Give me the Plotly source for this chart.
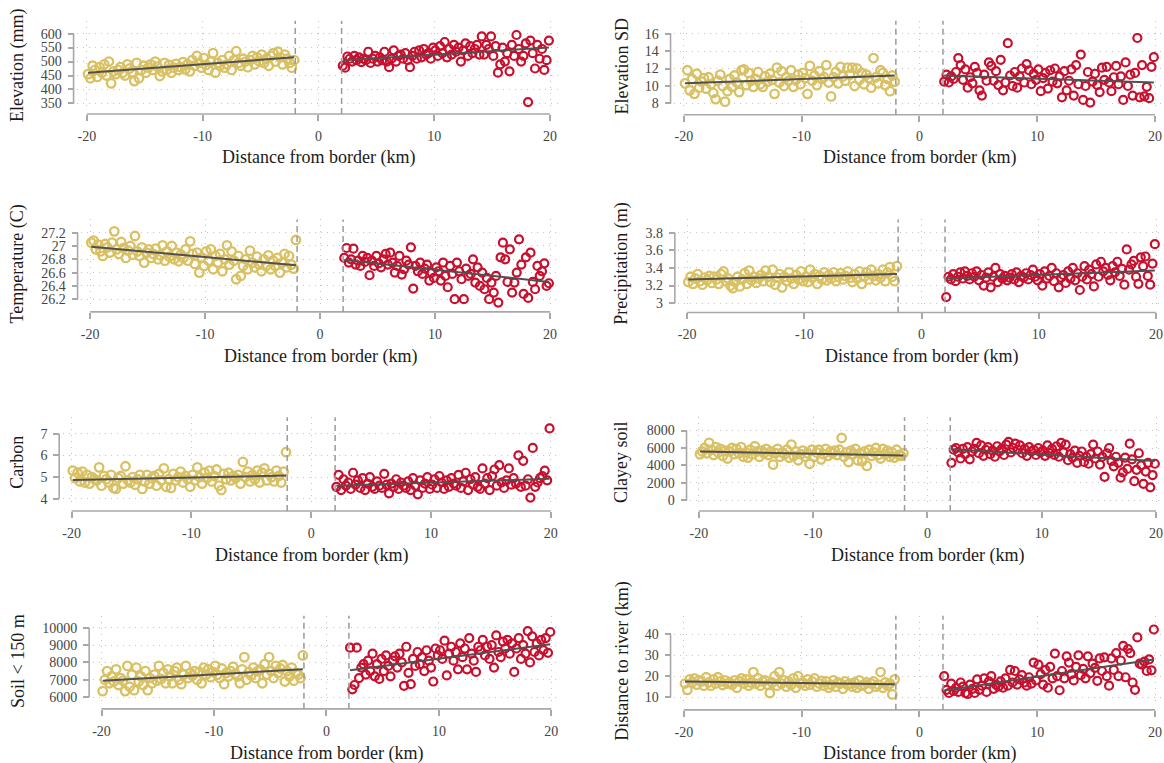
import plotly.graph_objects as go

W, H = 1164, 763
FONT = "Liberation Serif"
YELLOW = "#d9c062"
RED = "#c8102e"
FITC = "#505050"
AXC = "#a8a8a8"

# ---------------- data ----------------
X_LEFT = [-19.9, -19.7, -19.5, -19.3, -19.1, -18.9, -18.7, -18.5, -18.3, -18.1,
          -17.9, -17.7, -17.5, -17.3, -17.1, -16.9, -16.7, -16.5, -16.3, -16.1,
          -15.9, -15.7, -15.5, -15.3, -15.1, -14.9, -14.7, -14.5, -14.3, -14.1,
          -13.9, -13.7, -13.5, -13.3, -13.1, -12.9, -12.7, -12.5, -12.3, -12.1,
          -11.9, -11.7, -11.5, -11.3, -11.1, -10.9, -10.7, -10.5, -10.3, -10.1,
          -9.9, -9.7, -9.5, -9.3, -9.1, -8.9, -8.7, -8.5, -8.3, -8.1,
          -7.9, -7.7, -7.5, -7.3, -7.1, -6.9, -6.7, -6.5, -6.3, -6.1,
          -5.9, -5.7, -5.5, -5.3, -5.1, -4.9, -4.7, -4.5, -4.3, -4.1,
          -3.9, -3.7, -3.5, -3.3, -3.1, -2.9, -2.7, -2.5, -2.3, -2.1]
X_RIGHT = [2.1, 2.3, 2.5, 2.7, 2.9, 3.1, 3.3, 3.5, 3.7, 3.9,
           4.1, 4.3, 4.5, 4.7, 4.9, 5.1, 5.3, 5.5, 5.7, 5.9,
           6.1, 6.3, 6.5, 6.7, 6.9, 7.1, 7.3, 7.5, 7.7, 7.9,
           8.1, 8.3, 8.5, 8.7, 8.9, 9.1, 9.3, 9.5, 9.7, 9.9,
           10.1, 10.3, 10.5, 10.7, 10.9, 11.1, 11.3, 11.5, 11.7, 11.9,
           12.1, 12.3, 12.5, 12.7, 12.9, 13.1, 13.3, 13.5, 13.7, 13.9,
           14.1, 14.3, 14.5, 14.7, 14.9, 15.1, 15.3, 15.5, 15.7, 15.9,
           16.1, 16.3, 16.5, 16.7, 16.9, 17.1, 17.3, 17.5, 17.7, 17.9,
           18.1, 18.3, 18.5, 18.7, 18.9, 19.1, 19.3, 19.5, 19.7, 19.9]

ELEV_L = [455, 440, 485, 470, 445, 480, 460, 490, 450, 500,
          422, 465, 455, 470, 480, 460, 450, 490, 475, 462,
          430, 495, 440, 470, 485, 460, 478, 490, 470, 500,
          482, 448, 465, 495, 470, 488, 460, 478, 492, 470,
          480, 498, 472, 490, 465, 505, 485, 520, 495, 478,
          512, 488, 470, 500, 530, 460, 495, 485, 505, 478,
          490, 520, 470, 505, 537, 495, 485, 510, 500, 480,
          505, 520, 490, 515, 500, 525, 495, 510, 485, 520,
          530, 500, 535, 515, 490, 525, 510, 495, 478, 505]
ELEV_R = [485, 478, 518, 510, 500, 520, 505, 515, 498, 510,
          505, 535, 495, 510, 520, 500, 515, 505, 535, 500,
          480, 510, 540, 500, 520, 525, 510, 530, 505, 480,
          520, 535, 510, 540, 515, 545, 525, 530, 510, 550,
          540, 520, 555, 530, 570, 515, 545, 525, 560, 535,
          550, 500, 540, 565, 520, 555, 530, 545, 560, 525,
          590, 525, 560, 545, 590, 520, 555, 460, 490, 550,
          500, 530, 465, 560, 520, 595, 545, 500, 520, 565,
          355, 575, 530, 475, 560, 510, 545, 470, 505, 575]

ELSD_L = [10.3, 11.8, 9.5, 10.8, 9.1, 11.4, 9.8, 10.5, 10.9, 9.7,
          11.0, 10.2, 9.2, 8.5, 10.6, 11.3, 10.0, 8.2, 9.4, 10.8,
          9.9, 11.2, 10.4, 9.3, 11.8, 11.9, 10.1, 11.5, 10.6, 9.9,
          10.8, 11.6, 10.2, 9.9, 11.1, 10.5, 11.4, 10.7, 9.1, 12.1,
          10.4, 11.7, 10.0, 11.0, 10.6, 11.8, 9.9, 10.7, 11.3, 10.2,
          11.5, 10.9, 9.1, 12.3, 10.6, 11.2, 10.1, 11.7, 10.8, 11.0,
          12.4, 10.4, 8.8, 11.0, 11.6, 10.3, 12.2, 11.1, 10.6, 12.1,
          11.3, 12.1, 10.0, 12.0, 10.7, 11.5, 10.2, 11.3, 10.9, 9.8,
          13.2, 11.0, 10.3, 11.8, 11.5, 10.1, 10.8, 9.4, 11.2, 10.5]
ELSD_R = [10.5, 11.3, 10.4, 11.1, 10.8, 11.6, 13.2, 12.4, 10.7, 11.9,
          9.8, 11.0, 10.3, 12.2, 11.5, 9.5, 8.9, 11.3, 10.6, 12.7,
          12.3, 10.6, 11.7, 10.1, 13.0, 9.5, 10.4, 14.9, 11.2, 10.0,
          11.6, 9.8, 11.1, 12.0, 10.4, 12.5, 11.8, 10.2, 11.4, 10.7,
          11.9, 9.4, 10.9, 11.5, 9.7, 11.8, 10.5, 12.0, 10.3, 11.1,
          8.7, 11.7, 9.5, 10.6, 11.9, 8.9, 12.4, 10.2, 13.6, 8.4,
          10.0, 11.6, 8.1, 10.5, 11.4, 10.1, 9.3, 12.1, 10.7, 12.2,
          10.4, 9.4, 11.0, 12.3, 10.2, 11.1, 8.4, 12.7, 10.0, 11.3,
          8.9, 11.5, 15.5, 8.7, 12.4, 8.8, 9.9, 8.6, 12.2, 13.3]

TEMP_L = [27.05, 27.08, 26.95, 27.02, 26.92, 26.85, 27.03, 26.98, 26.90, 27.05,
          27.22, 26.95, 26.88, 27.06, 26.97, 26.82, 26.93, 27.00, 26.87, 27.15,
          26.92, 26.85, 26.98, 26.75, 26.90, 26.95, 26.82, 26.88, 26.96, 26.80,
          26.86, 27.01, 26.78, 26.92, 26.84, 27.00, 26.80, 26.90, 26.77, 26.87,
          26.82, 26.95, 26.78, 27.07, 26.88, 26.73, 26.90, 26.60, 26.83, 26.70,
          26.92, 26.78, 26.95, 26.65, 26.85, 26.75, 26.88, 26.62, 26.80, 27.01,
          26.72, 26.92, 26.78, 26.50, 26.85, 26.55, 26.70, 26.80, 26.65, 26.93,
          26.75, 26.68, 26.84, 26.72, 26.62, 26.80, 26.70, 26.86, 26.65, 26.78,
          26.70, 26.82, 26.60, 26.75, 26.88, 26.68, 26.85, 26.72, 26.66, 27.09]
TEMP_R = [26.82, 26.97, 26.75, 26.80, 26.96, 26.72, 26.78, 26.70, 26.85, 26.76,
          26.82, 26.56, 26.78, 26.70, 26.85, 26.74, 26.68, 26.80, 26.88, 26.72,
          26.90, 26.75, 26.60, 26.70, 26.85, 26.57, 26.65, 26.78, 26.72, 26.98,
          26.36, 26.70, 26.62, 26.75, 26.58, 26.66, 26.72, 26.48, 26.60, 26.52,
          26.68, 26.62, 26.48, 26.75, 26.55, 26.38, 26.70, 26.58, 26.20, 26.75,
          26.62, 26.50, 26.20, 26.66, 26.55, 26.58, 26.80, 26.45, 26.68, 26.40,
          26.60, 26.35, 26.52, 26.20, 26.45, 26.30, 26.55, 26.15, 26.83, 27.05,
          26.80, 26.46, 26.95, 26.30, 26.45, 26.60, 27.10, 26.72, 26.28, 26.83,
          26.22, 26.90, 26.46, 26.35, 26.70, 26.55, 26.62, 26.74, 26.40, 26.44]

PREC_L = [3.24, 3.30, 3.22, 3.28, 3.33, 3.25, 3.21, 3.29, 3.26, 3.31,
          3.23, 3.30, 3.27, 3.22, 3.33, 3.36, 3.25, 3.28, 3.20, 3.17,
          3.24, 3.30, 3.19, 3.27, 3.34, 3.22, 3.37, 3.26, 3.30, 3.23,
          3.28, 3.32, 3.25, 3.37, 3.30, 3.24, 3.38, 3.21, 3.29, 3.33,
          3.18, 3.30, 3.25, 3.35, 3.28, 3.22, 3.32, 3.27, 3.36, 3.25,
          3.30, 3.24, 3.38, 3.29, 3.33, 3.22, 3.31, 3.27, 3.35, 3.26,
          3.32, 3.28, 3.35, 3.25, 3.30, 3.34, 3.27, 3.31, 3.36, 3.29,
          3.24, 3.33, 3.28, 3.36, 3.22, 3.30, 3.35, 3.27, 3.38, 3.31,
          3.26, 3.33, 3.29, 3.38, 3.25, 3.35, 3.41, 3.30, 3.25, 3.42]
PREC_R = [3.07, 3.30, 3.27, 3.33, 3.25, 3.30, 3.35, 3.28, 3.36, 3.31,
          3.27, 3.34, 3.30, 3.36, 3.26, 3.32, 3.20, 3.29, 3.35, 3.18,
          3.30, 3.40, 3.24, 3.33, 3.28, 3.31, 3.26, 3.29, 3.33, 3.27,
          3.35, 3.24, 3.31, 3.29, 3.34, 3.27, 3.32, 3.38, 3.30, 3.26,
          3.33, 3.20, 3.36, 3.28, 3.31, 3.40, 3.25, 3.34, 3.18, 3.29,
          3.32, 3.23, 3.36, 3.28, 3.40, 3.26, 3.34, 3.15, 3.30, 3.42,
          3.27, 3.38, 3.33, 3.19, 3.44, 3.30, 3.47, 3.36, 3.40, 3.32,
          3.26, 3.42, 3.35, 3.47, 3.31, 3.39, 3.21, 3.61, 3.38, 3.44,
          3.48, 3.30, 3.22, 3.52, 3.42, 3.53, 3.31, 3.21, 3.45, 3.67]

CARB_L = [5.30, 4.95, 5.20, 4.80, 5.25, 4.75, 5.10, 4.70, 5.00, 4.90,
          4.85, 5.45, 4.60, 5.05, 4.90, 4.75, 5.10, 4.50, 4.45, 4.95,
          5.05, 4.70, 5.50, 4.85, 4.75, 5.00, 4.65, 4.90, 5.10, 4.45,
          4.80, 5.10, 4.70, 4.95, 5.05, 4.60, 5.15, 4.85, 5.40, 4.55,
          4.90, 4.50, 5.15, 4.85, 5.00, 5.25, 4.75, 5.05, 4.90, 4.55,
          5.10, 4.85, 5.45, 5.00, 4.70, 5.20, 4.95, 5.30, 4.80, 5.05,
          5.35, 4.60, 4.40, 5.15, 4.90, 5.20, 4.85, 5.05, 4.95, 5.10,
          4.70, 5.70, 5.00, 5.25, 4.80, 5.10, 4.90, 5.30, 4.75, 5.20,
          5.40, 4.85, 5.15, 5.00, 4.80, 5.30, 5.05, 4.75, 5.25, 6.15]
CARB_R = [4.55, 5.10, 4.40, 4.90, 4.60, 4.75, 4.45, 5.20, 4.65, 4.85,
          4.50, 4.95, 4.40, 4.70, 5.00, 4.55, 4.45, 4.80, 4.60, 4.50,
          5.15, 4.65, 4.25, 4.70, 4.55, 4.90, 4.45, 4.75, 4.60, 4.50,
          4.80, 4.40, 4.95, 4.60, 4.20, 4.85, 4.50, 4.70, 5.00, 4.45,
          4.65, 4.90, 4.50, 5.05, 4.75, 4.45, 4.85, 4.55, 4.95, 4.70,
          4.60, 5.10, 4.50, 4.80, 5.20, 4.40, 4.90, 4.65, 5.00, 4.55,
          4.45, 5.40, 4.70, 4.95, 4.40, 5.05, 5.35, 4.60, 5.55, 4.75,
          4.50, 4.85, 5.40, 4.65, 4.95, 4.70, 6.00, 4.55, 5.75, 4.60,
          4.90, 4.05, 6.35, 4.55, 4.75, 4.95, 5.05, 5.30, 4.85, 7.25]

CLAY_L = [5300, 5600, 6000, 5400, 6600, 5800, 5200, 6100, 5500, 5900,
          5100, 5700, 4800, 5600, 6000, 5300, 5900, 5400, 6100, 5000,
          5500, 4900, 5800, 5300, 6200, 5600, 5000, 5700, 5400, 5900,
          5200, 5600, 4100, 5400, 5900, 5000, 5500, 5300, 5800, 4900,
          6400, 5100, 5600, 4600, 5300, 5700, 5000, 5400, 4200, 5800,
          5000, 5500, 5800, 4700, 5300, 5900, 5100, 5600, 5400, 5700,
          5200, 5800, 7150, 5000, 5500, 4400, 5700, 5300, 5900, 4600,
          5400, 4500, 5600, 3950, 5800, 5100, 5500, 6000, 5200, 4800,
          5900, 5300, 5700, 5000, 5500, 4900, 5800, 5200, 5100, 5400]
CLAY_R = [4300, 5800, 6000, 5500, 4800, 5900, 5300, 6100, 4700, 5600,
          5900, 6600, 5400, 6300, 5100, 5800, 6100, 5300, 5700, 5000,
          6200, 5600, 5900, 5200, 6400, 6700, 5500, 6000, 6500, 5800,
          6300, 5400, 5900, 5100, 6100, 5600, 5800, 5200, 6000, 5500,
          5700, 5100, 6300, 5400, 5900, 5200, 6200, 5000, 6600, 5500,
          6400, 4600, 5300, 4900, 5700, 4300, 5100, 5600, 4400, 5000,
          4200, 5300, 6400, 4800, 5600, 4100, 5000, 2700, 5400, 6000,
          4500, 3900, 5000, 4300, 2600, 3200, 4900, 3600, 6500, 4700,
          2200, 3500, 5400, 4000, 1900, 3300, 4300, 1500, 2900, 4200]

SOIL_L = [6350, 7000, 7500, 6800, 7200, 6900, 7600, 6700, 7100, 6950,
          6350, 7800, 6600, 7300, 6400, 7700, 6900, 7200, 6700, 7500,
          6400, 7100, 6800, 7300, 6950, 7800, 7050, 7400, 6800, 7600,
          7200, 6800, 7500, 7700, 7000, 6750, 7300, 7800, 7100, 7400,
          7250, 7500, 7000, 7450, 6800, 7700, 7300, 7600, 7150, 7450,
          7800, 7300, 7100, 7650, 6750, 7400, 7200, 7500, 7750, 7350,
          7200, 6800, 7600, 8300, 7000, 7450, 7250, 7700, 7100, 7500,
          7600, 6800, 7900, 7300, 8300, 7500, 7100, 7800, 7400, 7650,
          7850, 6900, 7500, 7200, 7700, 6950, 7400, 7300, 7100, 8400]
SOIL_R = [8850, 6450, 6700, 8850, 7100, 7700, 7900, 7300, 8100, 7500,
          8500, 7200, 7900, 7050, 8200, 7500, 8400, 7800, 7200, 8100,
          8350, 7700, 8500, 8000, 6650, 8900, 7400, 6750, 8200, 7800,
          8600, 7900, 8300, 7500, 8700, 8100, 7700, 6900, 8800, 8400,
          8700, 8200, 9250, 7250, 8500, 8900, 8100, 8600, 7600, 9100,
          8300, 8800, 7600, 9400, 8500, 8100, 7450, 8900, 8700, 9300,
          8400, 8900, 8200, 9000, 7700, 9550, 8600, 8300, 9200, 8800,
          9300, 8500, 9100, 7450, 8800, 9400, 8200, 9000, 8500, 9800,
          8000, 9500, 8600, 9100, 8400, 9300, 8700, 9400, 8550, 9750]

RIVER_L = [16.5, 13.5, 18.5, 17.0, 19.0, 16.0, 18.0, 17.5, 15.5, 19.5,
           17.0, 15.5, 18.5, 16.5, 19.5, 17.5, 15.8, 18.0, 16.5, 17.0,
           16.0, 18.0, 14.5, 17.5, 19.0, 16.5, 18.5, 15.5, 17.0, 22.0,
           16.5, 19.0, 15.5, 17.5, 18.0, 16.0, 12.0, 17.0, 20.0, 15.5,
           22.0, 16.5, 18.0, 15.0, 17.5, 16.0, 19.0, 14.5, 20.0, 16.5,
           17.0, 15.5, 18.5, 16.0, 17.5, 19.0, 15.0, 16.5, 17.8, 15.5,
           17.5, 14.5, 16.0, 18.0, 15.0, 17.0, 16.5, 14.0, 17.5, 16.0,
           16.5, 15.0, 17.0, 14.5, 18.0, 15.5, 16.0, 17.0, 14.0, 16.5,
           17.5, 15.0, 16.0, 22.0, 14.5, 17.0, 15.5, 16.5, 11.3, 18.5]
RIVER_R = [20.0, 13.5, 12.0, 16.5, 13.0, 14.5, 12.5, 17.0, 15.0, 12.0,
           11.5, 16.0, 14.0, 12.0, 18.5, 13.5, 15.5, 19.0, 12.5, 17.5,
           20.0, 14.0, 16.0, 15.0, 17.5, 14.5, 19.0, 15.5, 23.0, 17.0,
           22.5, 16.0, 18.5, 20.5, 17.0, 15.5, 19.5, 16.5, 26.5, 18.0,
           25.5, 21.0, 16.0, 23.0, 14.5, 24.5, 19.0, 30.8, 20.0, 13.3,
           22.5, 19.0, 29.5, 26.5, 21.0, 18.0, 24.5, 30.0, 20.5, 23.5,
           19.0, 29.5, 21.5, 26.0, 24.0, 17.8, 28.5, 22.5, 29.0, 20.0,
           15.5, 28.5, 23.0, 31.0, 20.0, 27.5, 34.5, 19.5, 33.0, 31.0,
           17.0, 13.5, 38.5, 26.0, 25.5, 27.0, 22.5, 28.0, 22.8, 42.3]

# fitted-line end points: (left start, left end, right start, right end)
FIT_X = [-19.9, -2.1, 2.1, 19.9]
ELEV_FIT = [460, 515, 505, 550]
ELSD_FIT = [10.3, 11.2, 11.2, 10.4]
TEMP_FIT = [26.99, 26.71, 26.79, 26.46]
PREC_FIT = [3.27, 3.33, 3.28, 3.37]
CARB_FIT = [4.87, 5.07, 4.60, 4.92]
CLAY_FIT = [5600, 5150, 5850, 4500]
SOIL_FIT = [6950, 7600, 7550, 9050]
RIVER_FIT = [17.5, 16.2, 13.2, 28.0]

X_TICKS = [-20, -10, 0, 10, 20]
X_TICKTEXT = ["-20", "-10", "0", "10", "20"]
X_TITLE = "Distance from border (km)"

TITLES = ["Elevation (mm)", "Elevation SD", "Temperature (C)", "Precipitation (m)",
          "Carbon", "Clayey soil", "Soil < 150 m", "Distance to river (km)"]
Y_TICKS = [[350, 400, 450, 500, 550, 600],
           [8, 10, 12, 14, 16],
           [26.2, 26.4, 26.6, 26.8, 27.0, 27.2],
           [3.0, 3.2, 3.4, 3.6, 3.8],
           [4, 5, 6, 7],
           [0, 2000, 4000, 6000, 8000],
           [6000, 7000, 8000, 9000, 10000],
           [10, 20, 30, 40]]
Y_TICKTEXT = [["350", "400", "450", "500", "550", "600"],
              ["8", "10", "12", "14", "16"],
              ["26.2", "26.4", "26.6", "26.8", "27", "27.2"],
              ["3", "3.2", "3.4", "3.6", "3.8"],
              ["4", "5", "6", "7"],
              ["0", "2000", "4000", "6000", "8000"],
              ["6000", "7000", "8000", "9000", "10000"],
              ["10", "20", "30", "40"]]
SERIES = [(ELEV_L, ELEV_R, ELEV_FIT), (ELSD_L, ELSD_R, ELSD_FIT),
          (TEMP_L, TEMP_R, TEMP_FIT), (PREC_L, PREC_R, PREC_FIT),
          (CARB_L, CARB_R, CARB_FIT), (CLAY_L, CLAY_R, CLAY_FIT),
          (SOIL_L, SOIL_R, SOIL_FIT), (RIVER_L, RIVER_R, RIVER_FIT)]

# ---------------- layout geometry (pixels) ----------------
GEOM = [
    dict(yline=72.7, xm20=86.0, x20=550.0, top=20.7, xline=114.3, yhi_px=33.7, ylo_px=103.7, ytx=16.5, xty=158.0),
    dict(yline=670.7, xm20=684.0, x20=1156.0, top=20.7, xline=115.0, yhi_px=33.7, ylo_px=103.7, ytx=621.7, xty=158.0),
    dict(yline=76.7, xm20=89.3, x20=550.0, top=220.0, xline=312.7, yhi_px=233.3, ylo_px=300.0, ytx=16.5, xty=357.0),
    dict(yline=675.0, xm20=687.3, x20=1157.0, top=220.0, xline=313.3, yhi_px=233.3, ylo_px=304.0, ytx=621.7, xty=357.0),
    dict(yline=58.3, xm20=70.7, x20=550.7, top=418.3, xline=512.3, yhi_px=435.0, ylo_px=500.0, ytx=16.5, xty=556.5),
    dict(yline=686.7, xm20=699.0, x20=1157.0, top=418.3, xline=512.3, yhi_px=431.7, ylo_px=501.7, ytx=621.7, xty=556.5),
    dict(yline=88.3, xm20=100.7, x20=551.3, top=617.3, xline=710.7, yhi_px=629.3, ylo_px=699.0, ytx=16.5, xty=755.0),
    dict(yline=670.7, xm20=684.0, x20=1156.0, top=617.3, xline=711.7, yhi_px=636.0, ylo_px=699.0, ytx=621.7, xty=755.0),
]
GAP = 3.5

fig = go.Figure()
layout = dict(width=W, height=H, margin=dict(l=0, r=0, t=0, b=0),
              paper_bgcolor="white", plot_bgcolor="white", showlegend=False,
              font=dict(family=FONT, color="#333333"))
shapes, annotations = [], []

tickfont = dict(family=FONT, size=14, color="#444444")

for i, g in enumerate(GEOM):
    n = i + 1
    xs = "x" if n == 1 else f"x{n}"
    ys = "y" if n == 1 else f"y{n}"
    L = g["yline"] + GAP
    a = (g["x20"] - g["xm20"]) / 40.0
    R = min(g["x20"] + (g["xm20"] - L), W - 1)
    T = g["top"]
    B = g["xline"] - GAP
    xmin = -20 - (g["xm20"] - L) / a
    xmax = 20 + (R - g["x20"]) / a
    yt = Y_TICKS[i]
    hv, lv = yt[-1], yt[0]
    b = (g["ylo_px"] - g["yhi_px"]) / (hv - lv)
    ymax = hv + (g["yhi_px"] - T) / b
    ymin = lv - (B - g["ylo_px"]) / b

    layout["xaxis" if n == 1 else f"xaxis{n}"] = dict(
        domain=[L / W, R / W], range=[xmin, xmax], anchor="free", position=1 - g["xline"] / H,
        tickvals=X_TICKS, ticktext=X_TICKTEXT, ticks="outside", ticklen=6, tickwidth=1.5,
        tickcolor=AXC, showline=False, zeroline=False, showgrid=True, gridcolor="#c4c4c4",
        gridwidth=1, griddash="1px,5px", tickfont=tickfont, ticklabelstandoff=3, fixedrange=True)
    layout["yaxis" if n == 1 else f"yaxis{n}"] = dict(
        domain=[1 - B / H, 1 - T / H], range=[ymin, ymax], anchor="free", position=g["yline"] / W,
        tickvals=yt, ticktext=Y_TICKTEXT[i], ticks="outside", ticklen=6, tickwidth=1.5,
        tickcolor=AXC, showline=False, zeroline=False, showgrid=True, gridcolor="#c4c4c4",
        gridwidth=1, griddash="1px,5px", tickfont=tickfont, ticklabelstandoff=3, fixedrange=True)

    yl, yr, fit = SERIES[i]
    fig.add_trace(go.Scatter(x=X_LEFT, y=yl, mode="markers", xaxis=xs, yaxis=ys,
                             marker=dict(symbol="circle-open", size=8.5, color=YELLOW,
                                         line=dict(width=2.3, color=YELLOW))))
    fig.add_trace(go.Scatter(x=X_RIGHT, y=yr, mode="markers", xaxis=xs, yaxis=ys,
                             marker=dict(symbol="circle-open", size=8, color=RED,
                                         line=dict(width=2.2, color=RED))))
    fig.add_trace(go.Scatter(x=FIT_X[:2], y=fit[:2], mode="lines", xaxis=xs, yaxis=ys,
                             line=dict(color=FITC, width=2)))
    fig.add_trace(go.Scatter(x=FIT_X[2:], y=fit[2:], mode="lines", xaxis=xs, yaxis=ys,
                             line=dict(color=FITC, width=2)))

    # axis lines spanning only the tick range
    shapes.append(dict(type="line", xref=xs, yref="paper", x0=-20, x1=20,
                       y0=1 - g["xline"] / H, y1=1 - g["xline"] / H,
                       line=dict(color=AXC, width=1.6)))
    shapes.append(dict(type="line", xref="paper", yref=ys, x0=g["yline"] / W, x1=g["yline"] / W,
                       y0=lv, y1=hv, line=dict(color=AXC, width=1.6)))
    # dashed border lines
    ext = GAP / (B - T)
    for xv in (-2, 2):
        shapes.append(dict(type="line", xref=xs, yref=f"{ys} domain", x0=xv, x1=xv,
                           y0=-ext, y1=1, line=dict(color="#9a9a9a", width=1.5, dash="6px,4px")))

    annotations.append(dict(text=TITLES[i], xref="paper", yref="paper", x=g["ytx"] / W,
                            y=1 - ((T + B) / 2) / H, textangle=-90, showarrow=False,
                            xanchor="center", yanchor="middle",
                            font=dict(family=FONT, size=18, color="#1a1a1a")))
    annotations.append(dict(text=X_TITLE, xref=xs, yref="paper", x=0, y=1 - g["xty"] / H,
                            showarrow=False, xanchor="center", yanchor="middle",
                            font=dict(family=FONT, size=18, color="#1a1a1a")))

layout["shapes"] = shapes
layout["annotations"] = annotations
fig.update_layout(**layout)
fig.write_html("out.html")
